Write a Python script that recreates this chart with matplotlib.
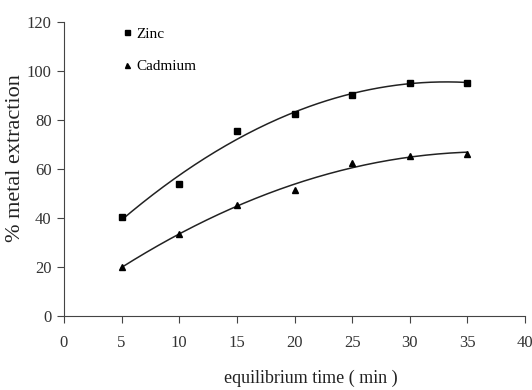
import matplotlib
matplotlib.use("Agg")
import matplotlib.pyplot as plt
import numpy as np

# Extraction data
time_min = [5, 10, 15, 20, 25, 30, 35]
zinc = [40.4, 53.9, 75.5, 82.4, 90.3, 95.2, 95.2]
cadmium = [20.0, 33.5, 45.3, 51.4, 62.4, 65.4, 66.2]

plt.rcParams["font.family"] = ["Liberation Serif", "DejaVu Serif"]

fig = plt.figure(figsize=(5.32, 3.9), dpi=100)
ax = fig.add_axes([64 / 532, 1 - 316 / 390, (525 - 64) / 532, (316 - 22) / 390])

# Smooth trend lines (2nd order fits through the points)
xs = np.linspace(5, 35, 200)
for ys in (zinc, cadmium):
    coef = np.polyfit(time_min, ys, 2)
    ax.plot(xs, np.polyval(coef, xs), color="#222222", linewidth=1.1)

ax.plot(time_min, zinc, linestyle="none", marker="s", markersize=4.5, color="black", label="Zinc")
ax.plot(time_min, cadmium, linestyle="none", marker="^", markersize=4.5, color="black", label="Cadmium")

ax.set_xlim(0, 40)
ax.set_ylim(0, 120)
ax.set_xticks(range(0, 41, 5))
ax.set_yticks(range(0, 121, 20))
ax.spines["top"].set_visible(False)
ax.spines["right"].set_visible(False)
for s in ("left", "bottom"):
    ax.spines[s].set_color("#444444")
ax.tick_params(direction="out", length=5, color="#444444", labelsize=12, labelcolor="#333333")
ax.tick_params(axis="x", pad=9)
ax.tick_params(axis="y", pad=4)

ax.set_xlabel("equilibrium time ( min )", fontsize=13, color="#222222")
ax.set_ylabel("% metal extraction", fontsize=16, color="#222222")
ax.xaxis.set_label_coords(0.536, -0.184)
ax.yaxis.set_label_coords(-0.084, 0.537)

ax.legend(loc="upper left", bbox_to_anchor=(0.09, 1.03), frameon=False, fontsize=11,
          handletextpad=0.1, handlelength=1.0, labelspacing=1.25, markerscale=0.8)

fig.savefig("out.png", dpi=100)
